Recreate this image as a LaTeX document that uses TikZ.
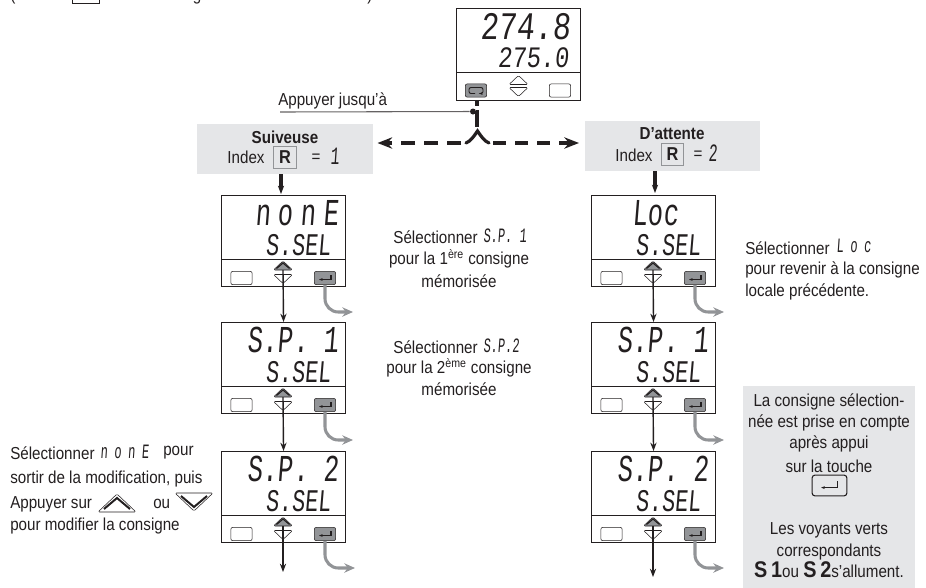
\documentclass[tikz,border=0pt]{standalone}
\usepackage{fontspec}
\setmainfont[FakeStretch=0.875]{Liberation Sans}
\newfontfamily\lcdfont[FakeSlant=0.12]{Liberation Mono}
\newfontfamily\lcdwide[FakeSlant=0.12,LetterSpace=30]{Liberation Mono}
\newfontfamily\lcdinline[FakeSlant=0.12,LetterSpace=55]{Liberation Mono}
\usetikzlibrary{arrows.meta,positioning,calc}
\definecolor{pale}{RGB}{229,230,232}
\definecolor{key}{RGB}{146,148,151}
\definecolor{ink}{RGB}{35,31,32}
\tikzset{
  >={Stealth[length=2.2mm]},
  panel/.style={draw=ink,thick,inner sep=0pt,minimum width=93pt,minimum height=68.25pt,anchor=north west},
  note/.style={font=\fontsize{13pt}{16.5pt}\selectfont,text=ink,align=center,inner sep=0pt},
  leftnote/.style={note,align=left,anchor=west},
  shade/.style={fill=pale,inner sep=0pt,anchor=north west},
  rkey/.style={draw=key,thick,minimum width=17pt,minimum height=17pt,inner sep=0pt,font=\fontsize{14pt}{14pt}\bfseries\selectfont,text=ink},
  btn/.style={draw=ink,rounded corners=1.5pt,inner sep=0pt,minimum width=16pt,minimum height=10pt,fill=#1},
  btn/.default=white,
  lcdbig/.style={font=\fontsize{19pt}{19pt}\lcdfont,text=ink,inner sep=0pt,anchor=east,transform shape,yscale=1.5},
  lcdsmall/.style={font=\fontsize{16.3pt}{16pt}\lcdfont,text=ink,inner sep=0pt,anchor=east,transform shape,yscale=1.45},
  lcdin/.style={font=\fontsize{9pt}{9pt}\lcdfont,text=ink,inner sep=0pt,anchor=west,transform shape,yscale=1.7},
  flow/.style={->,line width=1.05pt,draw=ink},
  heavy/.style={line width=2.4pt,draw=ink},
  heavy tip/.style={-{Stealth[length=11pt,width=8.5pt]}},
  grey flow/.style={-{Stealth[length=8pt,width=7pt]},line width=2.3pt,draw=key,rounded corners=10pt},
  % pictograms
  pics/upkey/.style={code={
    \filldraw[draw=ink,fill=#1,line join=round,rounded corners=1pt] (-9.5,4.5) -- (0,-4.5) -- (9.5,4.5) -- cycle;
  }},
  pics/upkey/.default=white,
  pics/downkey/.style={code={
    \filldraw[draw=ink,fill=#1,line join=round,rounded corners=1pt] (-9.5,-4.5) -- (0,4.5) -- (9.5,-4.5) -- cycle;
  }},
  pics/downkey/.default=white,
  pics/upmark/.style={code={
    \draw[ink,line width=#1] (-6.5,3) -- (0,-2.5) -- (6.5,3);
  }},
  pics/upmark/.default=0.9pt,
  pics/downmark/.style={code={
    \draw[ink,line width=#1] (-6.5,-3) -- (0,2.5) -- (6.5,-3);
  }},
  pics/downmark/.default=0.9pt,
  pics/enterkey/.style={code={
    \draw[ink,line width=0.8pt,-{Stealth[length=1mm]}] (6,-3) -- (6,1.5) -- (-6,1.5);
  }},
  pics/loopkey/.style={code={
    \draw[ink,line width=0.7pt,rounded corners=1.5pt,-{Stealth[length=1mm]}] (-1,3) -- (-7,3) -- (-7,-3) -- (7,-3) -- (7,3) -- (3,3);
  }},
}
% one display with its keys
\newcommand{\panelbox}[5]{
  \node[panel] (#1) at (#2,#3) {};
  \draw[ink] (#2,#3+64) -- (#2+124,#3+64);
  \node[btn] (#1free) at (#2+20.5,#3+83) {};
  \node[btn=key] (#1ok) at (#2+104,#3+83) {};
  \pic at (#1ok) {enterkey};
  \pic at (#2+62,#3+70.5) {upkey=key};
  \pic at (#2+62,#3+70.5) {upmark};
  \pic at (#2+62,#3+84) {downkey};
  \coordinate (#1hit) at (#2+62,#3+75);
  \node[lcdbig] (#1top) at (#2+118,#3+18) {#4};
  \node[lcdsmall] (#1low) at (#2+110,#3+50) {#5};
}
\begin{document}
\begin{tikzpicture}[x=0.75pt,y=-0.75pt]
  \useasboundingbox (0,0) rectangle (926,587);
  \clip (0,0) rectangle (926,587);

  % cut off line at the top edge
  \node[note,anchor=base] (capa) at (13,0) {(};
  \node[draw=ink,inner sep=0pt,minimum width=20pt,minimum height=12pt,anchor=south] (capb) at (85.5,3.5) {};
  \node[note,anchor=base] (capc) at (197,0) {g};
  \node[note,anchor=base] (capd) at (370,0) {)};

  % main display
  \node[panel,minimum height=69pt] (main) at (456,8) {};
  \draw[ink] (456,72.5) -- (580,72.5);
  \node[btn=key] (mainscroll) at (476,90.5) {};
  \pic at (mainscroll) {loopkey};
  \pic at (518.5,80) {upkey};
  \pic at (518.5,92) {downkey};
  \node[btn] (mainfree) at (560,90.5) {};
  \node[lcdbig,font=\fontsize{22.5pt}{22pt}\lcdfont,yscale=1.3/1.5] (mainpv) at (571,26.5) {274.8};
  \node[lcdsmall,font=\fontsize{17.8pt}{18pt}\lcdfont,yscale=1.25/1.45] (mainsp) at (569,58) {275.0};

  % the two modes
  \node[shade,minimum width=132pt,minimum height=37.5pt] (suiv) at (197,124) {};
  \node[note,font=\fontsize{13pt}{14pt}\bfseries\selectfont] (suivname) at (285,137) {Suiveuse};
  \node[note] (suivindex) at (246,157) {Index};
  \node[rkey] (suivr) at (285,157.5) {R};
  \node[note] (suiveq) at (316,158) {=};
  \node[lcdin,font=\fontsize{11pt}{11pt}\lcdfont] (suivval) at (330,156) {1};

  \node[shade,minimum width=131pt,minimum height=37.5pt] (att) at (585,121) {};
  \node[note,font=\fontsize{13pt}{14pt}\bfseries\selectfont] (attname) at (672,134) {D'attente};
  \node[note] (attindex) at (634,155) {Index};
  \node[rkey] (attr) at (672.5,154.5) {R};
  \node[note] (atteq) at (698,155) {=};
  \node[lcdin,font=\fontsize{11pt}{11pt}\lcdfont] (attval) at (708,153) {2};

  % dashed split
  \node[note,anchor=south west] (press) at (278,109) {Appuyer jusqu'à};
  \node[circle,fill=ink,inner sep=0pt,minimum size=4.5pt] (dot) at (473,111.5) {};
  \draw[ink!70,thick] (press.south west) ++(2,3) -- (dot);
  \coordinate (forkup) at (477,127);
  \coordinate (fork) at (477.5,131);
  \draw[heavy] (477,100) -- (477,106);
  \draw[heavy] (dot) -| (forkup);
  \draw[heavy,line cap=round] (466,143) .. controls (471,141) and (474,136) .. (fork) .. controls (481,136) and (484,141) .. (489,143);
  \draw[heavy,heavy tip,dash pattern=on 10.5pt off 6.75pt] (461,143) -- ([xshift=3pt]suiv.east |- 0,143);
  \draw[heavy,heavy tip,dash pattern=on 10pt off 6.5pt] (493,143) -- ([xshift=-4.5pt]att.west |- 0,143);

  % left column
  \panelbox{pa}{221}{195}{{\lcdwide nonE}}{S.SEL}
  \panelbox{pb}{221}{322}{S.P. 1}{S.SEL}
  \panelbox{pc}{221}{451}{S.P. 2}{S.SEL}
  \draw[heavy,->] (281,174) -- (281,194);
  \draw[flow] (pahit) -- (pb.north);
  \draw[flow] (pbhit) -- (pc.north);
  \coordinate (paend) at (283,572);
  \draw[flow] (pchit) -- (paend);

  % right column
  \panelbox{qa}{591}{195}{Loc\ \ \ }{S.SEL}
  \panelbox{qb}{591}{322}{S.P. 1}{S.SEL}
  \panelbox{qc}{591}{451}{S.P. 2}{S.SEL}
  \draw[heavy,->] (655,171) -- (655,193);
  \draw[flow] (qahit) -- (qb.north);
  \draw[flow] (qbhit) -- (qc.north);
  \coordinate (qaend) at (653,577);
  \draw[flow] (qchit) -- (qaend);

  % grey outlets
  \foreach \n/\x/\y in {pa/353/312,pb/353/440,pc/355/568,qa/724/312,qb/724/440,qc/724/568}{
    \coordinate (\n out) at (\x,\y);
    \draw[grey flow] (\n ok.south) |- (\n out);
  }

  % middle notes
  \node[note,anchor=east] (pickone) at (478,237) {Sélectionner};
  \node[lcdin] (pickoneval) at (483,236) {S.P. 1};
  \node[note] (pickonea) at (459,259) {pour la 1\textsuperscript{ère} consigne};
  \node[note] (pickoneb) at (459,281) {mémorisée};
  \node[note,anchor=east] (picktwo) at (478,347) {Sélectionner};
  \node[lcdin] (picktwoval) at (483,346) {S.P.2};
  \node[note] (picktwoa) at (459,368) {pour la 2\textsuperscript{ème} consigne};
  \node[note] (picktwob) at (459,389) {mémorisée};

  % right notes
  \node[leftnote] (pickloc) at (745,248) {Sélectionner};
  \node[lcdin,font=\fontsize{9pt}{9pt}\lcdinline] (picklocval) at (836,246) {Loc};
  \node[leftnote] (picklocb) at (745,281) {pour revenir à la consigne\\locale précédente.};

  % left notes
  \node[leftnote] (picknone) at (10,453) {Sélectionner};
  \node[lcdin,font=\fontsize{9pt}{9pt}\lcdinline] (picknoneval) at (100,452) {nonE};
  \node[leftnote] (picknonea) at (163,453) {pour};
  \node[leftnote] (picknoneb) at (10,479) {sortir de la modification, puis};
  \node[leftnote] (picknonec) at (10,504) {Appuyer sur};
  \pic[scale=2] at (117,503) {upkey};
  \pic[scale=2] at (117,503) {upmark=1.5pt};
  \node[leftnote] (picknoned) at (153,504) {ou};
  \pic[scale=2] at (194,502) {downkey};
  \pic[scale=2] at (194,502) {downmark=1.5pt};
  \node[leftnote] (picknonee) at (10,526) {pour modifier la consigne};

  % grey note
  \node[shade,minimum width=129pt,minimum height=151pt] (side) at (743,386) {};
  \node[note] (sidea) at (829,402) {La consigne sélection-};
  \node[note] (sideb) at (829,423) {née est prise en compte};
  \node[note] (sidec) at (829,444) {après appui};
  \node[note] (sided) at (829,466) {sur la touche};
  \node[btn=pale,minimum width=26pt,minimum height=15.5pt,line width=0.8pt,rounded corners=2pt] (sidekey) at (829.5,485.5) {};
  \pic[scale=1.4] at (sidekey) {enterkey};
  \node[note] (sidee) at (829,530) {Les voyants verts};
  \node[note] (sidef) at (829,552) {correspondants};
  \node[note] (sideg) at (829,570) {\fontsize{17pt}{17pt}\bfseries\selectfont S\,1\fontsize{13pt}{14pt}\mdseries\selectfont ou \fontsize{17pt}{17pt}\bfseries\selectfont S\,2\fontsize{13pt}{14pt}\mdseries\selectfont s'allument.};
\end{tikzpicture}
\end{document}
